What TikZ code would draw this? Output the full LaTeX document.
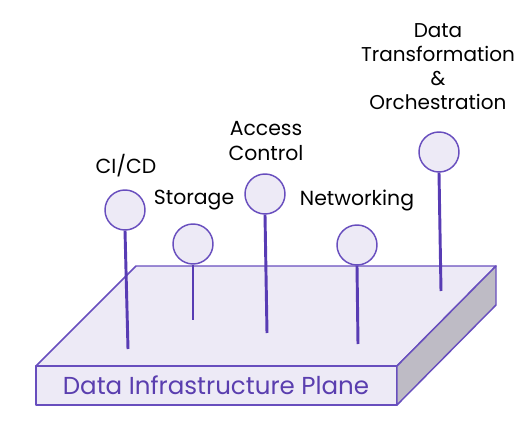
\documentclass[tikz,border=0pt]{standalone}
\usepackage{fontspec}
\setmainfont{Poppins}
\definecolor{plateTop}{RGB}{237,234,246}
\definecolor{plateSide}{RGB}{190,187,197}
\definecolor{edgePurple}{RGB}{104,78,190}
\definecolor{stickPurple}{RGB}{88,60,180}
\definecolor{namePurple}{RGB}{90,62,175}

\begin{document}
\begin{tikzpicture}[x=0.75pt,y=0.75pt,yscale=-1,xscale=1,
  bulb/.style={circle,draw=edgePurple,fill=plateTop,line width=1.1pt,minimum size=30pt,inner sep=0pt},
  stick/.style={draw=stickPurple,line width=2.2pt},
  tag/.style={inner sep=0.75pt,align=center,font=\fontsize{15.3}{18.5}\selectfont},
  face/.style={draw=edgePurple,line width=1.1pt,line join=round}]
\useasboundingbox (0,0) rectangle (532,424);

%Plate: top, front and side faces
\draw [face,fill=plateTop] (136,266) -- (496,266) -- (397,366) -- (36,366) -- cycle ;
\draw [face,fill=plateTop] (36,366) -- (397,366) -- (397,405) -- (36,405) -- cycle ;
\draw [face,fill=plateSide] (397,366) -- (496,266) -- (496,305) -- (397,405) -- cycle ;
% Text Node
\node [inner sep=0.75pt,text=namePurple,font=\fontsize{18.4}{20}\selectfont] (plane) at (216,385) {Data Infrastructure Plane};

%Feet of the sticks
\coordinate (cicd foot) at (128,349);
\coordinate (storage foot) at (193,320);
\coordinate (access foot) at (267,333);
\coordinate (network foot) at (358,344);
\coordinate (transform foot) at (441,291);

%Bulbs
\node [bulb] (cicd) at (125,210) {};
\node [bulb] (storage) at (193,244) {};
\node [bulb] (access) at (265,194) {};
\node [bulb] (network) at (357,245) {};
\node [bulb] (transform) at (439,152) {};

%Sticks
\draw [stick] (cicd.south) -- (cicd foot);
\draw [stick] (storage.south) -- (storage foot);
\draw [stick] (access.south) -- (access foot);
\draw [stick] (network.south) -- (network foot);
\draw [stick] (transform.south) -- (transform foot);

% Text Node
\node [tag] (cicd label) at (126,166) {CI/CD};
% Text Node
\node [tag] (storage label) at (194,200) {Storage};
% Text Node
\node [tag] (access label) at (266,141) {Access\\Control};
% Text Node
\node [tag] (network label) at (357,200) {Networking};
% Text Node
\node [tag,font=\fontsize{15}{18}\selectfont] (transform label) at (438,67) {Data\\Transformation\\\&\\Orchestration};

\end{tikzpicture}
\end{document}
